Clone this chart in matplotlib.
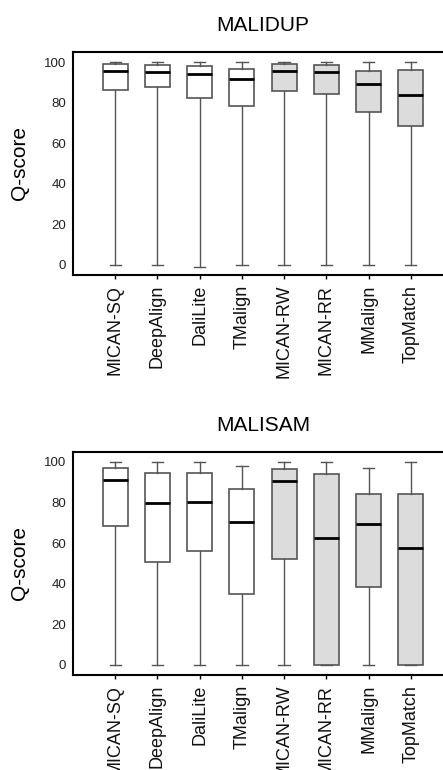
import matplotlib
matplotlib.use("Agg")
import matplotlib.pyplot as plt

plt.rcParams['font.family'] = ['Liberation Sans', 'DejaVu Sans']

methods = ["MICAN-SQ", "DeepAlign", "DaliLite", "TMalign", "MICAN-RW", "MICAN-RR", "MMalign", "TopMatch"]
shaded = [False, False, False, False, True, True, True, True]

# MALIDUP
malidup_whislo = [0, 0, -1.2, 0, 0, 0, 0, 0]
malidup_q1 = [86.3, 87.5, 82.2, 78.4, 85.8, 84.4, 75.6, 68.6]
malidup_med = [95.7, 95.0, 94.2, 91.6, 95.7, 95.0, 89.1, 83.9]
malidup_q3 = [99.0, 98.7, 98.2, 96.5, 99.0, 98.5, 95.7, 96.0]
malidup_whishi = [100, 100, 100, 100, 100, 100, 100, 100]

# MALISAM
malisam_whislo = [0, 0, 0, 0, 0, 0, 0, 0]
malisam_q1 = [68.4, 50.8, 56.1, 34.8, 52.0, 0.0, 38.5, 0.0]
malisam_med = [91.3, 79.8, 80.3, 70.2, 90.5, 62.3, 69.3, 57.7]
malisam_q3 = [97.0, 94.6, 94.3, 86.6, 96.4, 94.1, 84.4, 84.3]
malisam_whishi = [100, 100, 100, 97.9, 100, 100, 97.2, 100]

yticks = [0, 20, 40, 60, 80, 100]

fig = plt.figure(figsize=(4.43, 7.70), dpi=100)

W = 443.0
H = 770.0
ax1 = fig.add_axes([73 / W, (H - 275) / H, 380 / W, 223 / H])
ax2 = fig.add_axes([73 / W, (H - 675) / H, 380 / W, 223.3 / H])


def draw(ax, title, lo, q1, med, q3, hi):
    stats = []
    for i in range(len(methods)):
        stats.append(dict(label=methods[i], whislo=lo[i], q1=q1[i], med=med[i],
                          q3=q3[i], whishi=hi[i], fliers=[]))
    pos = list(range(1, len(methods) + 1))
    b = ax.bxp(stats, positions=pos, widths=0.59, patch_artist=True,
               showfliers=False,
               boxprops=dict(edgecolor='#555555', linewidth=1.2),
               whiskerprops=dict(color='#555555', linewidth=1.0),
               capprops=dict(color='#555555', linewidth=1.0),
               medianprops=dict(color='black', linewidth=2.0),
               capwidths=0.27)
    for patch, s in zip(b['boxes'], shaded):
        patch.set_facecolor('#dcdcdc' if s else 'white')
    ax.set_xlim(0, 9)
    ax.set_ylim(-5, 105)
    ax.set_yticks(yticks)
    ax.set_yticklabels([str(v) for v in yticks], fontsize=9.5, color='#222222')
    ax.set_xticks(pos)
    ax.set_xticklabels(methods, rotation=90, fontsize=13, color='#111111')
    ax.tick_params(axis='y', length=0, pad=5)
    ax.tick_params(axis='x', length=3, width=1, pad=4, direction='out')
    for sp in ax.spines.values():
        sp.set_linewidth(1.5)
        sp.set_color('black')
    ax.set_ylabel("Q-score", fontsize=15, labelpad=11)
    ax.set_title(title, fontsize=15, pad=15)


draw(ax1, "MALIDUP", malidup_whislo, malidup_q1, malidup_med, malidup_q3, malidup_whishi)
draw(ax2, "MALISAM", malisam_whislo, malisam_q1, malisam_med, malisam_q3, malisam_whishi)

fig.savefig("out.png", dpi=100)
